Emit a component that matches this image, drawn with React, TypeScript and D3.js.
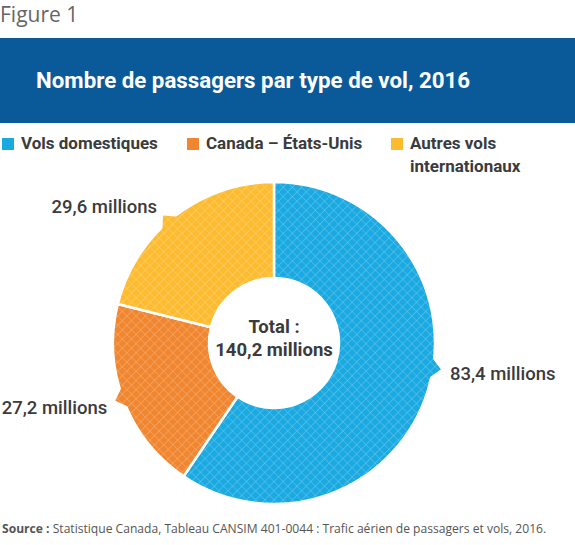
import React from "react";
import * as d3 from "d3";

const categories = ["Vols domestiques", "Canada – États-Unis", "Autres vols internationaux"];
const values = [83.4, 27.2, 29.6];
const valueLabels = ["83,4 millions", "27,2 millions", "29,6 millions"];
const colors = ["#1aa9e1", "#f0862f", "#fdbb30"];
const legendLines = [["Vols domestiques"], ["Canada – États-Unis"], ["Autres vols", "internationaux"]];
const totalLines = ["Total :", "140,2 millions"];
const titleText = "Nombre de passagers par type de vol, 2016";
const figureText = "Figure 1";

// layout
const W = 575, H = 545;
const cx = 274, cy = 343, R = 161, r0 = 65;
const arrowAngles = [99, 250, 319];
const labelOffsets = [[9, 4], [-8, 7], [-6, -9]];
const legendX = [2, 187, 391];

export default function App() {
  const pie = d3.pie<number>().sort(null).value((d) => d);
  const arcs = pie(values);
  const arc = d3.arc<d3.PieArcDatum<number>>().innerRadius(r0).outerRadius(R);
  const font = "Roboto, 'DejaVu Sans', sans-serif";
  const textColor = "#3b3b3b";

  const rad = (deg: number) => (deg * Math.PI) / 180;
  const polar = (rr: number, deg: number) => [rr * Math.sin(rad(deg)), -rr * Math.cos(rad(deg))];

  return (
    <svg width={W} height={H} style={{ position: "absolute", left: 0, top: 0 }}>
      <defs>
        {colors.map((c, i) => (
          <pattern key={i} id={`hatch${i}`} patternUnits="userSpaceOnUse" width={6.5} height={6.5} patternTransform="rotate(45)">
            <rect width={6.5} height={6.5} fill={c} />
            <path d="M0,0 H6.5 M0,0 V6.5" stroke="#ffffff" strokeOpacity={0.35} strokeWidth={1.1} />
          </pattern>
        ))}
      </defs>
      <rect width={W} height={H} fill="#ffffff" />
      <text x={0} y={22} fontFamily="'Open Sans', sans-serif" fontSize={21} fill="#666666" fontWeight={400}>
        {figureText}
      </text>
      <rect x={0} y={38} width={W} height={85} fill="#0a5a9a" />
      <text x={36} y={88} fontFamily={font} fontSize={22.3} fontWeight={700} fill="#ffffff">
        {titleText}
      </text>

      {legendLines.map((lines, i) => (
        <g key={i}>
          <rect x={legendX[i]} y={138} width={12} height={12} fill={colors[i]} />
          {lines.map((l, j) => (
            <text key={j} x={legendX[i] + 19} y={149 + j * 23} fontFamily={font} fontSize={17} fontWeight={700} fill={textColor}>
              {l}
            </text>
          ))}
        </g>
      ))}

      <g transform={`translate(${cx},${cy})`}>
        {arcs.map((a, i) => (
          <path key={i} d={arc(a) || ""} fill={`url(#hatch${i})`} stroke="#ffffff" strokeWidth={2.5} />
        ))}
        {arcs.map((a, i) => {
          const ang = arrowAngles[i];
          const b1 = polar(R - 3, ang - 4);
          const b2 = polar(R - 3, ang + 4);
          const tip = polar(R + 8, ang);
          return (
            <path key={"t" + i} d={`M${b1[0]},${b1[1]} L${tip[0]},${tip[1]} L${b2[0]},${b2[1]} Z`} fill={`url(#hatch${i})`} />
          );
        })}
        {arcs.map((a, i) => {
          const ang = arrowAngles[i];
          const tip = polar(R + 8, ang);
          const off = labelOffsets[i];
          const anchor = off[0] > 0 ? "start" : "end";
          return (
            <text key={"l" + i} x={tip[0] + off[0]} y={tip[1] + off[1]} dy="0.35em" textAnchor={anchor} fontFamily={font} fontSize={18.5} fontWeight={500} fill={textColor}>
              {valueLabels[i]}
            </text>
          );
        })}
        {totalLines.map((t, j) => (
          <text key={"c" + j} x={0} y={-16 + j * 23} dy="0.35em" textAnchor="middle" fontFamily={font} fontSize={18.5} fontWeight={700} fill={textColor}>
            {t}
          </text>
        ))}
      </g>

      <text x={2} y={533} fontFamily="'Open Sans', sans-serif" fontSize={12.1} fill="#555555">
        <tspan fontWeight={700}>Source :</tspan> Statistique Canada, Tableau CANSIM 401-0044 : Trafic aérien de passagers et vols, 2016.
      </text>
    </svg>
  );
}
